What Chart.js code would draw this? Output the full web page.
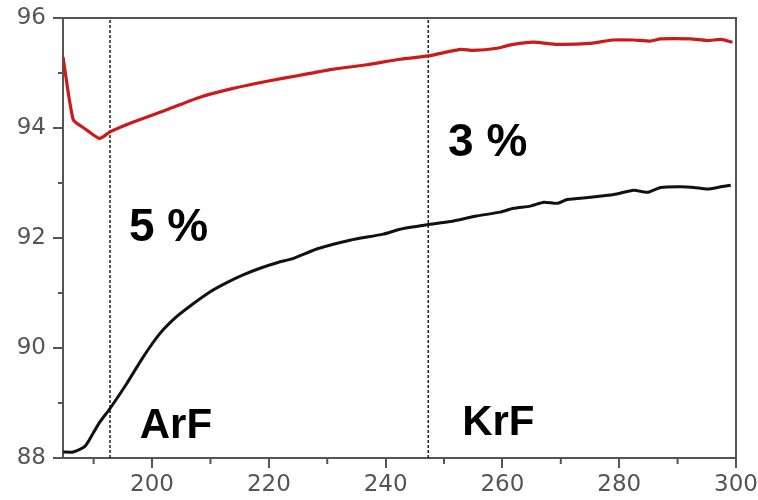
<!DOCTYPE html>
<html>
<head>
<meta charset="utf-8">
<script src="https://cdn.jsdelivr.net/npm/chart.js@4.4.1/dist/chart.umd.min.js"></script>
<style>
  html, body { margin: 0; padding: 0; background: #fff; }
  .wrap { width: 758px; height: 500px; position: relative; }
</style>
</head>
<body>
<div class="wrap"><canvas id="chart"></canvas></div>
<script>
// wavelength (nm) and transmission values
const redX = [184.75, 186.5, 188.2, 191.0, 192.8, 196.8, 202.5, 208.2, 213.9, 219.7, 225.4, 231.1, 236.8, 242.5, 247.3,
  252.8, 255.0, 259.1, 261.4, 265.3, 269.4, 275.1, 278.9, 282.4, 285.3, 287.1, 292.2, 295.1, 297.4, 299.4];
const redY = [95.29, 94.15, 94.01, 93.81, 93.93, 94.11, 94.33, 94.56, 94.72, 94.85, 94.96, 95.07, 95.15, 95.25, 95.31,
  95.43, 95.41, 95.45, 95.51, 95.56, 95.52, 95.54, 95.60, 95.60, 95.58, 95.62, 95.62, 95.59, 95.61, 95.56];

const blackX = [184.8, 186.5, 188.5, 189.9, 191.1, 192.8, 195.7, 198.5, 201.4, 204.2, 207.1, 209.9, 212.8, 215.6, 218.5,
  221.4, 224.2, 228.2, 233.9, 239.6, 242.5, 247.1, 251.1, 255.6, 259.6, 261.9, 264.8, 267.1, 269.4, 271.1,
  275.1, 279.1, 282.5, 284.8, 287.1, 290.5, 292.8, 295.1, 297.4, 299.1];
const blackY = [88.11, 88.11, 88.21, 88.45, 88.66, 88.90, 89.36, 89.84, 90.27, 90.57, 90.81, 91.02, 91.19, 91.33, 91.45,
  91.55, 91.63, 91.80, 91.96, 92.07, 92.16, 92.24, 92.30, 92.40, 92.47, 92.54, 92.58, 92.65, 92.63, 92.70,
  92.74, 92.79, 92.87, 92.83, 92.92, 92.93, 92.92, 92.89, 92.93, 92.96];

// ArF / KrF marker wavelengths
const markerX = [192.8, 247.3];

const xTicks = [200, 220, 240, 260, 280, 300];
const xMinor = [190, 210, 230, 250, 270, 290];
const yTicks = [88, 90, 92, 94, 96];
const yMinor = [89, 91, 93, 95];

const xMin = 184.75, xMax = 300;

const notes = ['5 %', '3 %', 'ArF', 'KrF'];
// where each note sits, in axis units (left edge, baseline)
const notePos = [[196.05, 91.95], [250.7, 93.49], [197.9, 88.36], [253.1, 88.41]];
const noteSize = [46, 46, 42, 42];

const toPts = (xs, ys) => xs.map((x, i) => ({ x: x, y: ys[i] }));

const axisColor = '#555';
const tickFont = { family: '"DejaVu Sans", sans-serif', size: 23 };

const markerSets = markerX.map(m => ({
  data: [{ x: m, y: yTicks[0] }, { x: m, y: yTicks[yTicks.length - 1] }],
  borderColor: '#222',
  borderWidth: 1.5,
  borderDash: [3, 2],
  pointRadius: 0,
  tension: 0
}));

// frame, minor ticks and text notes
const extras = {
  id: 'extras',
  afterDraw(chart) {
    const { ctx, chartArea: a, scales } = chart;
    ctx.save();
    ctx.strokeStyle = axisColor;
    ctx.lineWidth = 2;
    ctx.beginPath();
    ctx.moveTo(a.left, a.top);
    ctx.lineTo(a.right, a.top);
    ctx.lineTo(a.right, a.bottom);
    ctx.stroke();

    ctx.beginPath();
    yMinor.forEach(v => {
      const y = scales.y.getPixelForValue(v);
      ctx.moveTo(a.left - 5, y);
      ctx.lineTo(a.left, y);
    });
    xMinor.forEach(v => {
      const x = scales.x.getPixelForValue(v);
      ctx.moveTo(x, a.bottom);
      ctx.lineTo(x, a.bottom + 6);
    });
    ctx.stroke();

    ctx.fillStyle = '#000';
    ctx.textBaseline = 'alphabetic';
    ctx.textAlign = 'left';
    notes.forEach((t, i) => {
      ctx.font = 'bold ' + noteSize[i] + 'px "Liberation Sans", Arial, sans-serif';
      ctx.fillText(t, scales.x.getPixelForValue(notePos[i][0]), scales.y.getPixelForValue(notePos[i][1]));
    });
    ctx.restore();
  }
};

new Chart(document.getElementById('chart').getContext('2d'), {
  type: 'line',
  data: {
    datasets: [
      {
        data: toPts(redX, redY),
        borderColor: '#cc1a1a',
        borderWidth: 3.2,
        pointRadius: 0,
        tension: 0.2
      },
      {
        data: toPts(blackX, blackY),
        borderColor: '#111',
        borderWidth: 3,
        pointRadius: 0,
        tension: 0.2
      },
      ...markerSets
    ]
  },
  options: {
    responsive: true,
    maintainAspectRatio: false,
    animation: false,
    layout: { padding: { top: 18, right: 22, left: 0, bottom: 0 } },
    plugins: { legend: { display: false }, tooltip: { enabled: false } },
    scales: {
      x: {
        type: 'linear',
        min: xMin,
        max: xMax,
        afterBuildTicks: s => { s.ticks = xTicks.map(v => ({ value: v })); },
        afterFit: s => { s.height = 42; s.paddingLeft = 0; s.paddingRight = 0; },
        ticks: { font: tickFont, color: axisColor, padding: 3, maxRotation: 0 },
        grid: { drawOnChartArea: false, tickLength: 10, color: axisColor, lineWidth: 2 },
        border: { color: axisColor, width: 2 }
      },
      y: {
        type: 'linear',
        min: yTicks[0],
        max: yTicks[yTicks.length - 1],
        afterBuildTicks: s => { s.ticks = yTicks.map(v => ({ value: v })); },
        afterFit: s => { s.width = 63; s.paddingTop = 0; s.paddingBottom = 0; },
        ticks: { font: tickFont, color: axisColor, padding: 7 },
        grid: { drawOnChartArea: false, tickLength: 10, color: axisColor, lineWidth: 2 },
        border: { color: axisColor, width: 2 }
      }
    }
  },
  plugins: [extras]
});
</script>
</body>
</html>
